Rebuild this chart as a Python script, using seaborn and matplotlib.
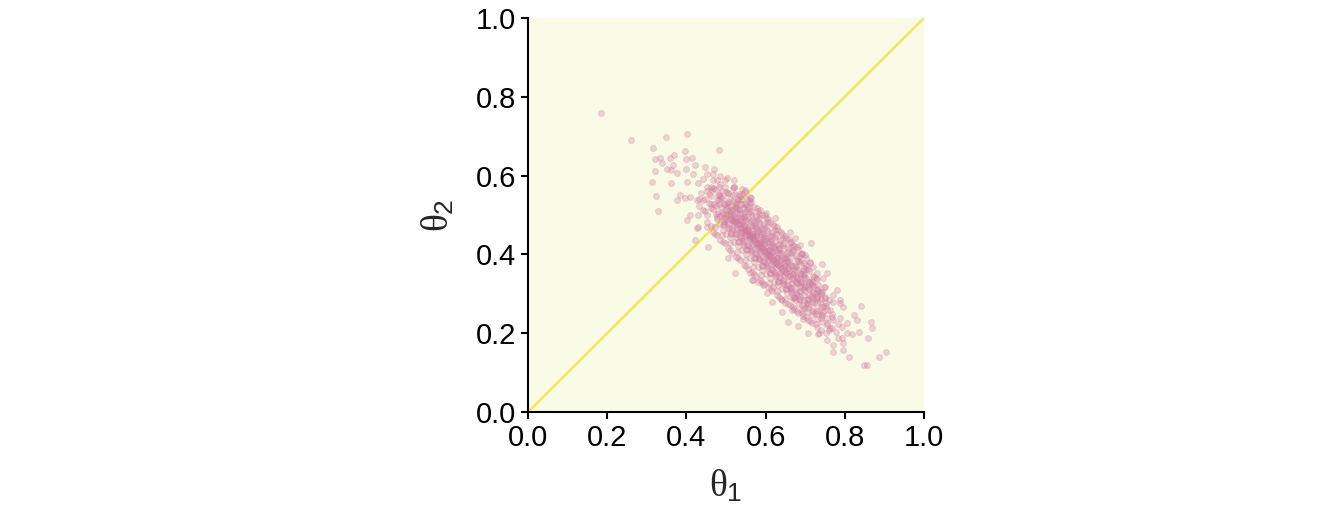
import numpy as np
import pandas as pd
import seaborn as sns
import matplotlib

matplotlib.use("Agg")
import matplotlib.pyplot as plt

# posterior samples (theta_1, theta_2)
# sparse edge points
edge_t1 = [
    0.184, 0.259, 0.348, 0.401, 0.315, 0.397, 0.483, 0.321, 0.333, 0.359,
    0.369, 0.338, 0.367, 0.320, 0.350, 0.360, 0.375, 0.399, 0.413, 0.422,
    0.399, 0.417, 0.447, 0.470, 0.451, 0.485, 0.502, 0.313, 0.360, 0.401,
    0.430, 0.323, 0.329, 0.384, 0.409, 0.464, 0.518, 0.476, 0.409, 0.430,
    0.375, 0.426, 0.443, 0.502, 0.548, 0.561, 0.601, 0.624, 0.662, 0.674,
    0.422, 0.455, 0.426, 0.401, 0.396, 0.506, 0.523, 0.565, 0.594,
    0.715, 0.742, 0.733, 0.683, 0.657, 0.641, 0.695, 0.615, 0.603, 0.569,
    0.561, 0.582, 0.822, 0.830, 0.788, 0.796, 0.754, 0.763, 0.746, 0.771,
    0.788, 0.750, 0.725, 0.704, 0.691, 0.666, 0.670, 0.641, 0.733, 0.746,
    0.750, 0.716, 0.695, 0.699, 0.691, 0.670, 0.687, 0.662, 0.720, 0.729,
    0.754, 0.780, 0.662, 0.619, 0.636,
    0.841, 0.866, 0.868, 0.858, 0.904, 0.887, 0.848, 0.857, 0.811, 0.817,
    0.836, 0.796, 0.769, 0.769, 0.796, 0.784, 0.754, 0.736, 0.708, 0.805,
    0.761, 0.767, 0.788,
]
edge_t2 = [
    0.760, 0.690, 0.699, 0.705, 0.671, 0.662, 0.664, 0.642, 0.645, 0.645,
    0.652, 0.631, 0.627, 0.612, 0.616, 0.614, 0.606, 0.641, 0.644, 0.627,
    0.618, 0.604, 0.623, 0.616, 0.604, 0.599, 0.595, 0.584, 0.582, 0.585,
    0.580, 0.548, 0.511, 0.551, 0.546, 0.563, 0.568, 0.538, 0.500, 0.470,
    0.538, 0.538, 0.513, 0.530, 0.563, 0.546, 0.504, 0.492, 0.458, 0.441,
    0.437, 0.420, 0.466, 0.487, 0.542, 0.390, 0.352, 0.335, 0.322,
    0.430, 0.376, 0.198, 0.218, 0.229, 0.255, 0.235, 0.280, 0.301, 0.335,
    0.352, 0.331, 0.246, 0.234, 0.238, 0.267, 0.227, 0.212, 0.255, 0.280,
    0.284, 0.293, 0.301, 0.284, 0.259, 0.259, 0.289, 0.284, 0.322, 0.339,
    0.318, 0.331, 0.360, 0.398, 0.403, 0.411, 0.424, 0.432, 0.369, 0.352,
    0.352, 0.310, 0.318, 0.318, 0.352,
    0.270, 0.228, 0.212, 0.187, 0.153, 0.139, 0.119, 0.119, 0.140, 0.197,
    0.204, 0.174, 0.170, 0.153, 0.157, 0.187, 0.183, 0.200, 0.201, 0.225,
    0.208, 0.242, 0.276,
]

# dense core of the cloud
core_t1 = [
    0.452, 0.437, 0.468, 0.461, 0.441, 0.473, 0.486, 0.458, 0.479, 0.447, 0.466, 0.491, 0.474, 0.483, 0.462,
    0.497, 0.508, 0.486, 0.517, 0.494, 0.503, 0.526, 0.479, 0.512, 0.521, 0.492, 0.505, 0.531, 0.488, 0.514, 0.499, 0.527,
    0.523, 0.534, 0.506, 0.543, 0.515, 0.527, 0.548, 0.496, 0.536, 0.541, 0.512, 0.503, 0.552, 0.529, 0.519, 0.538, 0.557, 0.524,
    0.546, 0.553, 0.524, 0.563, 0.537, 0.544, 0.571, 0.516, 0.556, 0.564, 0.531, 0.522, 0.583, 0.548, 0.559, 0.541, 0.575, 0.552,
    0.566, 0.574, 0.543, 0.583, 0.556, 0.564, 0.592, 0.537, 0.571, 0.586, 0.551, 0.547, 0.603, 0.568, 0.579, 0.561, 0.596, 0.577,
    0.587, 0.594, 0.563, 0.604, 0.576, 0.583, 0.612, 0.556, 0.592, 0.607, 0.571, 0.566, 0.624, 0.589, 0.598, 0.581, 0.617, 0.597,
    0.608, 0.614, 0.583, 0.626, 0.597, 0.603, 0.633, 0.576, 0.612, 0.628, 0.591, 0.586, 0.644, 0.611, 0.619, 0.601, 0.637, 0.622,
    0.628, 0.634, 0.603, 0.647, 0.617, 0.622, 0.652, 0.596, 0.632, 0.649, 0.611, 0.607, 0.664, 0.631, 0.641, 0.621, 0.657,
    0.648, 0.655, 0.623, 0.667, 0.638, 0.643, 0.673, 0.617, 0.652, 0.669, 0.632, 0.627, 0.684, 0.651, 0.661,
    0.668, 0.676, 0.643, 0.688, 0.657, 0.663, 0.694, 0.637, 0.673, 0.689, 0.652, 0.681, 0.702,
    0.689, 0.697, 0.664, 0.708, 0.678, 0.683, 0.713, 0.657, 0.694, 0.711, 0.674,
    0.709, 0.718, 0.684, 0.727, 0.699, 0.704, 0.734, 0.678, 0.714,
    0.729, 0.741, 0.703, 0.748, 0.721, 0.737,
    0.752, 0.761, 0.724, 0.769, 0.743,
    # second pass over the band
    0.432, 0.463, 0.478,
    0.431, 0.458, 0.482, 0.497,
    0.428, 0.462, 0.481, 0.498, 0.521,
    0.451, 0.467, 0.482, 0.493, 0.504, 0.519,
    0.453, 0.474, 0.488, 0.497, 0.509, 0.523, 0.541,
    0.461, 0.478, 0.492, 0.503, 0.511, 0.524, 0.536, 0.548,
    0.468, 0.486, 0.497, 0.509, 0.516, 0.527, 0.539, 0.552,
    0.477, 0.493, 0.506, 0.518, 0.526, 0.535, 0.546, 0.561, 0.512,
    0.486, 0.501, 0.514, 0.527, 0.536, 0.545, 0.557, 0.571, 0.522,
    0.497, 0.511, 0.524, 0.536, 0.546, 0.553, 0.566, 0.582, 0.541, 0.531,
    0.506, 0.521, 0.535, 0.546, 0.555, 0.563, 0.577, 0.591, 0.551, 0.542,
    0.514, 0.531, 0.544, 0.557, 0.565, 0.574, 0.586, 0.602, 0.561, 0.551,
    0.524, 0.541, 0.553, 0.567, 0.576, 0.584, 0.597, 0.611, 0.572, 0.561,
    0.536, 0.551, 0.563, 0.577, 0.586, 0.594, 0.606, 0.621, 0.582, 0.571,
    0.545, 0.561, 0.574, 0.586, 0.596, 0.603, 0.617, 0.632, 0.592, 0.581,
    0.556, 0.571, 0.583, 0.597, 0.606, 0.613, 0.627, 0.642, 0.601, 0.591,
    0.566, 0.581, 0.594, 0.607, 0.616, 0.624, 0.637, 0.652, 0.611, 0.601,
    0.575, 0.591, 0.604, 0.617, 0.626, 0.634, 0.647, 0.663, 0.621, 0.612,
    0.586, 0.601, 0.614, 0.627, 0.636, 0.644, 0.657, 0.672, 0.632, 0.621,
    0.596, 0.611, 0.624, 0.637, 0.646, 0.655, 0.667, 0.683, 0.642,
    0.607, 0.621, 0.634, 0.647, 0.656, 0.665, 0.678, 0.693, 0.651,
    0.617, 0.632, 0.644, 0.657, 0.666, 0.675, 0.688, 0.703,
    0.628, 0.642, 0.654, 0.667, 0.676, 0.686, 0.698, 0.712,
    0.639, 0.653, 0.665, 0.677, 0.687, 0.697, 0.709,
    0.648, 0.663, 0.676, 0.688, 0.697, 0.707, 0.719,
    0.661, 0.674, 0.686, 0.698, 0.708, 0.718, 0.731,
    0.672, 0.685, 0.697, 0.709, 0.719, 0.731,
    0.683, 0.696, 0.708, 0.719, 0.729, 0.742,
    0.695, 0.707, 0.719, 0.731, 0.741,
    0.706, 0.718, 0.731, 0.743, 0.753,
    0.718, 0.731, 0.742, 0.756,
    0.729, 0.743, 0.754, 0.768,
    0.741, 0.756, 0.771,
    0.753, 0.768, 0.784,
    0.779, 0.794,
    0.792, 0.806,
    # third pass, between the earlier rows
    0.441, 0.466, 0.452,
    0.447, 0.469, 0.486, 0.501,
    0.452, 0.476, 0.489, 0.503, 0.517, 0.533,
    0.472, 0.494, 0.509, 0.522, 0.538,
    0.473, 0.496, 0.511, 0.521, 0.532, 0.548, 0.563,
    0.489, 0.507, 0.519, 0.531, 0.544, 0.558,
    0.492, 0.513, 0.528, 0.539, 0.549, 0.563, 0.578,
    0.509, 0.526, 0.538, 0.549, 0.562, 0.576,
    0.511, 0.532, 0.547, 0.558, 0.569, 0.583, 0.598,
    0.528, 0.546, 0.558, 0.569, 0.582, 0.596,
    0.531, 0.552, 0.567, 0.578, 0.589, 0.603, 0.618,
    0.548, 0.566, 0.578, 0.589, 0.602, 0.616,
    0.551, 0.572, 0.587, 0.598, 0.609, 0.623, 0.638,
    0.568, 0.586, 0.598, 0.609, 0.622, 0.636,
    0.571, 0.592, 0.607, 0.618, 0.629, 0.643, 0.658,
    0.588, 0.606, 0.618, 0.629, 0.642, 0.656,
    0.591, 0.612, 0.627, 0.638, 0.649, 0.663, 0.678,
    0.608, 0.626, 0.638, 0.649, 0.662, 0.676,
    0.613, 0.632, 0.647, 0.658, 0.669, 0.683,
    0.628, 0.646, 0.658, 0.669, 0.682, 0.696,
    0.633, 0.652, 0.667, 0.678, 0.689, 0.703,
    0.648, 0.666, 0.678, 0.689, 0.702,
    0.656, 0.672, 0.687, 0.698, 0.709, 0.723,
    0.668, 0.686, 0.698, 0.709, 0.722,
    0.678, 0.692, 0.707, 0.718, 0.731,
    0.691, 0.706, 0.718, 0.729, 0.741,
    0.702, 0.717, 0.738, 0.751,
    0.713, 0.729, 0.748,
    0.726, 0.741, 0.762,
]
core_t2 = [
    0.571, 0.556, 0.588, 0.548, 0.592, 0.566, 0.579, 0.531, 0.552, 0.541, 0.603, 0.561, 0.523, 0.538, 0.519,
    0.512, 0.534, 0.497, 0.551, 0.528, 0.483, 0.521, 0.506, 0.503, 0.572, 0.474, 0.556, 0.541, 0.543, 0.487, 0.498, 0.506,
    0.491, 0.512, 0.468, 0.529, 0.514, 0.462, 0.497, 0.481, 0.478, 0.553, 0.451, 0.502, 0.516, 0.538, 0.477, 0.493, 0.538, 0.527,
    0.472, 0.489, 0.452, 0.511, 0.486, 0.441, 0.482, 0.463, 0.461, 0.534, 0.432, 0.484, 0.503, 0.507, 0.447, 0.458, 0.466, 0.524,
    0.452, 0.471, 0.428, 0.492, 0.468, 0.421, 0.461, 0.441, 0.438, 0.512, 0.413, 0.462, 0.481, 0.487, 0.426, 0.437, 0.447, 0.455,
    0.431, 0.452, 0.409, 0.472, 0.449, 0.398, 0.438, 0.421, 0.418, 0.491, 0.392, 0.443, 0.462, 0.467, 0.406, 0.415, 0.427, 0.436,
    0.412, 0.431, 0.388, 0.451, 0.428, 0.377, 0.417, 0.401, 0.396, 0.469, 0.371, 0.423, 0.441, 0.446, 0.385, 0.393, 0.404, 0.418,
    0.392, 0.411, 0.368, 0.428, 0.407, 0.356, 0.394, 0.381, 0.374, 0.446, 0.352, 0.402, 0.418, 0.425, 0.366, 0.372, 0.381,
    0.371, 0.389, 0.348, 0.407, 0.386, 0.336, 0.371, 0.361, 0.353, 0.424, 0.331, 0.379, 0.394, 0.402, 0.345,
    0.351, 0.368, 0.328, 0.384, 0.366, 0.315, 0.349, 0.341, 0.332, 0.401, 0.311, 0.327, 0.372,
    0.331, 0.347, 0.306, 0.362, 0.343, 0.296, 0.329, 0.322, 0.311, 0.381, 0.289,
    0.311, 0.326, 0.288, 0.341, 0.321, 0.276, 0.308, 0.302, 0.291,
    0.289, 0.304, 0.268, 0.318, 0.279, 0.262,
    0.268, 0.283, 0.251, 0.297, 0.246,
    # second pass over the band
    0.541, 0.572, 0.589,
    0.522, 0.553, 0.571, 0.588,
    0.501, 0.529, 0.553, 0.571, 0.588,
    0.499, 0.516, 0.528, 0.543, 0.556, 0.571,
    0.482, 0.503, 0.521, 0.527, 0.541, 0.553, 0.567,
    0.473, 0.489, 0.502, 0.514, 0.522, 0.533, 0.548, 0.559,
    0.458, 0.476, 0.489, 0.497, 0.508, 0.517, 0.528, 0.541,
    0.448, 0.462, 0.477, 0.488, 0.496, 0.506, 0.517, 0.531, 0.493,
    0.437, 0.452, 0.466, 0.478, 0.487, 0.494, 0.508, 0.521, 0.481,
    0.428, 0.443, 0.453, 0.467, 0.474, 0.486, 0.497, 0.511, 0.463, 0.476,
    0.417, 0.431, 0.446, 0.457, 0.463, 0.474, 0.487, 0.501, 0.452, 0.468,
    0.404, 0.421, 0.433, 0.448, 0.455, 0.466, 0.477, 0.492, 0.442, 0.459,
    0.393, 0.411, 0.424, 0.437, 0.446, 0.456, 0.468, 0.481, 0.432, 0.448,
    0.386, 0.401, 0.413, 0.428, 0.436, 0.443, 0.456, 0.471, 0.421, 0.438,
    0.373, 0.391, 0.404, 0.417, 0.426, 0.433, 0.447, 0.462, 0.411, 0.428,
    0.364, 0.381, 0.392, 0.408, 0.416, 0.422, 0.437, 0.452, 0.402, 0.417,
    0.355, 0.369, 0.383, 0.397, 0.406, 0.414, 0.426, 0.441, 0.391, 0.408,
    0.344, 0.361, 0.373, 0.387, 0.396, 0.403, 0.416, 0.432, 0.381, 0.398,
    0.336, 0.351, 0.362, 0.377, 0.386, 0.392, 0.407, 0.421, 0.372, 0.389,
    0.326, 0.341, 0.352, 0.367, 0.376, 0.383, 0.397, 0.412, 0.361,
    0.317, 0.331, 0.343, 0.356, 0.366, 0.372, 0.386, 0.401, 0.352,
    0.306, 0.322, 0.333, 0.346, 0.356, 0.362, 0.377, 0.391,
    0.297, 0.311, 0.323, 0.337, 0.345, 0.353, 0.366, 0.379,
    0.288, 0.302, 0.312, 0.327, 0.336, 0.343, 0.357,
    0.277, 0.292, 0.303, 0.317, 0.326, 0.333, 0.346,
    0.271, 0.283, 0.293, 0.307, 0.316, 0.322, 0.337,
    0.262, 0.273, 0.284, 0.297, 0.305, 0.313,
    0.252, 0.263, 0.274, 0.286, 0.294, 0.304,
    0.243, 0.254, 0.265, 0.276, 0.286,
    0.234, 0.245, 0.256, 0.267, 0.277,
    0.226, 0.237, 0.246, 0.258,
    0.217, 0.228, 0.238, 0.249,
    0.209, 0.221, 0.233,
    0.201, 0.212, 0.223,
    0.204, 0.215,
    0.188, 0.201,
    # third pass, between the earlier rows
    0.538, 0.568, 0.561,
    0.509, 0.527, 0.548, 0.559,
    0.469, 0.496, 0.507, 0.524, 0.536, 0.554,
    0.469, 0.492, 0.511, 0.521, 0.541,
    0.451, 0.476, 0.489, 0.502, 0.514, 0.527, 0.543,
    0.448, 0.467, 0.481, 0.492, 0.503, 0.521,
    0.431, 0.454, 0.467, 0.478, 0.491, 0.503, 0.517,
    0.428, 0.445, 0.458, 0.471, 0.481, 0.497,
    0.411, 0.433, 0.447, 0.458, 0.471, 0.483, 0.499,
    0.407, 0.425, 0.438, 0.451, 0.461, 0.477,
    0.391, 0.412, 0.427, 0.438, 0.451, 0.463, 0.478,
    0.387, 0.405, 0.418, 0.431, 0.441, 0.457,
    0.371, 0.392, 0.407, 0.418, 0.431, 0.443, 0.458,
    0.367, 0.385, 0.398, 0.411, 0.421, 0.437,
    0.351, 0.372, 0.387, 0.398, 0.411, 0.423, 0.438,
    0.347, 0.365, 0.378, 0.391, 0.401, 0.417,
    0.331, 0.352, 0.367, 0.378, 0.391, 0.403, 0.418,
    0.327, 0.345, 0.358, 0.371, 0.381, 0.397,
    0.312, 0.332, 0.347, 0.358, 0.371, 0.383,
    0.307, 0.325, 0.338, 0.351, 0.361, 0.377,
    0.292, 0.312, 0.327, 0.338, 0.351, 0.363,
    0.287, 0.305, 0.318, 0.331, 0.341,
    0.275, 0.292, 0.307, 0.318, 0.331, 0.343,
    0.267, 0.285, 0.298, 0.311, 0.321,
    0.257, 0.272, 0.287, 0.298, 0.309,
    0.251, 0.265, 0.278, 0.291, 0.299,
    0.241, 0.256, 0.278, 0.289,
    0.232, 0.249, 0.268,
    0.224, 0.239, 0.258,
]

diag = [0.0, 1.0]
ticks = [0.0, 0.2, 0.4, 0.6, 0.8, 1.0]

point_color = "#CF799F"
line_color = "#F0E442"
bg_color = "#F9FBE6"

sns.set_theme(style="ticks")
plt.rcParams["font.family"] = ["Liberation Sans", "DejaVu Sans"]
plt.rcParams["mathtext.fontset"] = "custom"
plt.rcParams["mathtext.rm"] = "Liberation Sans"
plt.rcParams["mathtext.it"] = "Liberation Serif"

samples = pd.DataFrame(
    {"theta1": edge_t1 + core_t1, "theta2": edge_t2 + core_t2}
)

fig = plt.figure(figsize=(13.44, 5.28), dpi=100)
ax = fig.add_axes([0.3929, 0.2197, 0.2946, 0.7462])
ax.set_facecolor(bg_color)

sns.lineplot(x=diag, y=diag, ax=ax, color=line_color, alpha=0.85,
             linewidth=1.8, zorder=1)
sns.scatterplot(
    data=samples, x="theta1", y="theta2", ax=ax,
    color=point_color, edgecolor=point_color, linewidth=0.7,
    s=18, alpha=0.3, zorder=2,
)

ax.set_xlim(0, 1)
ax.set_ylim(0, 1)
ax.set_xticks(ticks)
ax.set_yticks(ticks)
ax.tick_params(labelsize=21, width=1.5, length=5, color="black",
               labelcolor="black")
for side in ["left", "bottom"]:
    ax.spines[side].set_linewidth(1.5)
    ax.spines[side].set_color("black")
sns.despine(ax=ax)

ax.set_xlabel(r"$\theta_1$", fontsize=27, labelpad=12)
ax.set_ylabel(r"$\theta_2$", fontsize=27, labelpad=14)

fig.savefig("out.png", dpi=100)
